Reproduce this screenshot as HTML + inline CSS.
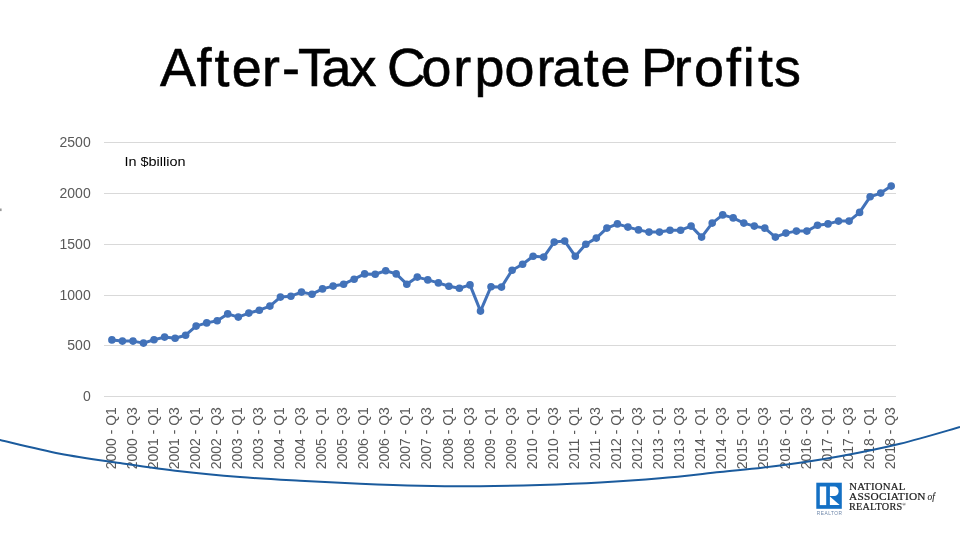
<!DOCTYPE html>
<html lang="en">
<head>
<meta charset="utf-8">
<title>After-Tax Corporate Profits</title>
<style>
html,body{margin:0;padding:0;background:#fff;}
body{width:960px;height:537px;overflow:hidden;position:relative;}
svg{display:block;position:absolute;left:0;top:0;}
.sans{font-family:"Liberation Sans",sans-serif;}
.serif{font-family:"Liberation Serif",serif;}
</style>
</head>
<body>
<svg width="960" height="537" viewBox="0 0 960 537">
<rect x="0" y="0" width="960" height="537" fill="#ffffff"/>
<text class="sans" y="85.9" font-size="53.8" fill="#000" stroke="#000" stroke-width="0.6" x="160.1 196.6 214.6 231.7 262.0 282.0 297.9 321.4 349.5 379.5 387.1 421.4 453.2 474.5 504.6 536.6 552.4 583.8 600.4 630.4 641.0 673.7 694.1 726.1 742.8 758.0 774.1">After-Tax Corporate Profits</text>
<g stroke="#d9d9d9" stroke-width="1" shape-rendering="crispEdges">
<line x1="104" y1="142.5" x2="896" y2="142.5"/>
<line x1="104" y1="193.5" x2="896" y2="193.5"/>
<line x1="104" y1="244.5" x2="896" y2="244.5"/>
<line x1="104" y1="295.5" x2="896" y2="295.5"/>
<line x1="104" y1="345.5" x2="896" y2="345.5"/>
<line x1="104" y1="396.5" x2="896" y2="396.5"/>
</g>
<g class="sans" font-size="14" fill="#595959" text-anchor="end">
<text x="90.7" y="147.3">2500</text>
<text x="90.7" y="198.3">2000</text>
<text x="90.7" y="249.3">1500</text>
<text x="90.7" y="300.3">1000</text>
<text x="90.7" y="350.3">500</text>
<text x="90.7" y="401.3">0</text>
</g>
<text class="sans" x="124.5" y="166" font-size="12.6" fill="#000" textLength="61" lengthAdjust="spacingAndGlyphs">In $billion</text>
<g class="sans" font-size="14" fill="#595959">
<text transform="translate(115.5,469.2) rotate(-90)" textLength="62" lengthAdjust="spacingAndGlyphs">2000 - Q1</text>
<text transform="translate(136.6,469.2) rotate(-90)" textLength="62" lengthAdjust="spacingAndGlyphs">2000 - Q3</text>
<text transform="translate(157.6,469.2) rotate(-90)" textLength="62" lengthAdjust="spacingAndGlyphs">2001 - Q1</text>
<text transform="translate(178.7,469.2) rotate(-90)" textLength="62" lengthAdjust="spacingAndGlyphs">2001 - Q3</text>
<text transform="translate(199.7,469.2) rotate(-90)" textLength="62" lengthAdjust="spacingAndGlyphs">2002 - Q1</text>
<text transform="translate(220.8,469.2) rotate(-90)" textLength="62" lengthAdjust="spacingAndGlyphs">2002 - Q3</text>
<text transform="translate(241.9,469.2) rotate(-90)" textLength="62" lengthAdjust="spacingAndGlyphs">2003 - Q1</text>
<text transform="translate(262.9,469.2) rotate(-90)" textLength="62" lengthAdjust="spacingAndGlyphs">2003 - Q3</text>
<text transform="translate(284.0,469.2) rotate(-90)" textLength="62" lengthAdjust="spacingAndGlyphs">2004 - Q1</text>
<text transform="translate(305.1,469.2) rotate(-90)" textLength="62" lengthAdjust="spacingAndGlyphs">2004 - Q3</text>
<text transform="translate(326.1,469.2) rotate(-90)" textLength="62" lengthAdjust="spacingAndGlyphs">2005 - Q1</text>
<text transform="translate(347.2,469.2) rotate(-90)" textLength="62" lengthAdjust="spacingAndGlyphs">2005 - Q3</text>
<text transform="translate(368.2,469.2) rotate(-90)" textLength="62" lengthAdjust="spacingAndGlyphs">2006 - Q1</text>
<text transform="translate(389.3,469.2) rotate(-90)" textLength="62" lengthAdjust="spacingAndGlyphs">2006 - Q3</text>
<text transform="translate(410.4,469.2) rotate(-90)" textLength="62" lengthAdjust="spacingAndGlyphs">2007 - Q1</text>
<text transform="translate(431.4,469.2) rotate(-90)" textLength="62" lengthAdjust="spacingAndGlyphs">2007 - Q3</text>
<text transform="translate(452.5,469.2) rotate(-90)" textLength="62" lengthAdjust="spacingAndGlyphs">2008 - Q1</text>
<text transform="translate(473.6,469.2) rotate(-90)" textLength="62" lengthAdjust="spacingAndGlyphs">2008 - Q3</text>
<text transform="translate(494.6,469.2) rotate(-90)" textLength="62" lengthAdjust="spacingAndGlyphs">2009 - Q1</text>
<text transform="translate(515.7,469.2) rotate(-90)" textLength="62" lengthAdjust="spacingAndGlyphs">2009 - Q3</text>
<text transform="translate(536.7,469.2) rotate(-90)" textLength="62" lengthAdjust="spacingAndGlyphs">2010 - Q1</text>
<text transform="translate(557.8,469.2) rotate(-90)" textLength="62" lengthAdjust="spacingAndGlyphs">2010 - Q3</text>
<text transform="translate(578.9,469.2) rotate(-90)" textLength="62" lengthAdjust="spacingAndGlyphs">2011 - Q1</text>
<text transform="translate(599.9,469.2) rotate(-90)" textLength="62" lengthAdjust="spacingAndGlyphs">2011 - Q3</text>
<text transform="translate(621.0,469.2) rotate(-90)" textLength="62" lengthAdjust="spacingAndGlyphs">2012 - Q1</text>
<text transform="translate(642.1,469.2) rotate(-90)" textLength="62" lengthAdjust="spacingAndGlyphs">2012 - Q3</text>
<text transform="translate(663.1,469.2) rotate(-90)" textLength="62" lengthAdjust="spacingAndGlyphs">2013 - Q1</text>
<text transform="translate(684.2,469.2) rotate(-90)" textLength="62" lengthAdjust="spacingAndGlyphs">2013 - Q3</text>
<text transform="translate(705.2,469.2) rotate(-90)" textLength="62" lengthAdjust="spacingAndGlyphs">2014 - Q1</text>
<text transform="translate(726.3,469.2) rotate(-90)" textLength="62" lengthAdjust="spacingAndGlyphs">2014 - Q3</text>
<text transform="translate(747.4,469.2) rotate(-90)" textLength="62" lengthAdjust="spacingAndGlyphs">2015 - Q1</text>
<text transform="translate(768.4,469.2) rotate(-90)" textLength="62" lengthAdjust="spacingAndGlyphs">2015 - Q3</text>
<text transform="translate(789.5,469.2) rotate(-90)" textLength="62" lengthAdjust="spacingAndGlyphs">2016 - Q1</text>
<text transform="translate(810.5,469.2) rotate(-90)" textLength="62" lengthAdjust="spacingAndGlyphs">2016 - Q3</text>
<text transform="translate(831.6,469.2) rotate(-90)" textLength="62" lengthAdjust="spacingAndGlyphs">2017 - Q1</text>
<text transform="translate(852.7,469.2) rotate(-90)" textLength="62" lengthAdjust="spacingAndGlyphs">2017 - Q3</text>
<text transform="translate(873.7,469.2) rotate(-90)" textLength="62" lengthAdjust="spacingAndGlyphs">2018 - Q1</text>
<text transform="translate(894.8,469.2) rotate(-90)" textLength="62" lengthAdjust="spacingAndGlyphs">2018 - Q3</text>
</g>
<polyline points="111.9,339.9 122.4,341.1 133.0,341.1 143.5,343.1 154.0,339.8 164.6,337.1 175.1,338.3 185.6,335.2 196.1,326.1 206.7,322.9 217.2,320.8 227.7,313.9 238.3,317.1 248.8,313.1 259.3,310.2 269.9,306.1 280.4,297.1 290.9,296.2 301.5,292.1 312.0,294.2 322.5,288.9 333.1,286.1 343.6,284.2 354.1,279.2 364.6,273.9 375.2,274.2 385.7,270.8 396.2,273.9 406.8,284.2 417.3,277.1 427.8,279.9 438.4,282.9 448.9,286.2 459.4,288.3 470.0,284.9 480.5,311.1 491.0,286.7 501.5,287.1 512.1,270.2 522.6,264.2 533.1,256.3 543.7,257.1 554.2,242.1 564.7,241.1 575.3,256.2 585.8,244.2 596.3,238.1 606.9,228.1 617.4,223.9 627.9,227.1 638.5,229.9 649.0,232.1 659.5,232.1 670.0,230.2 680.6,230.2 691.1,226.1 701.6,237.1 712.2,223.1 722.7,214.9 733.2,217.9 743.8,223.1 754.3,226.1 764.8,228.1 775.4,237.1 785.9,233.1 796.4,231.1 806.9,231.1 817.5,225.2 828.0,223.9 838.5,221.1 849.1,221.1 859.6,212.4 870.1,196.8 880.7,193.1 891.2,186.1" fill="none" stroke="#4272b9" stroke-width="3" stroke-linejoin="round" stroke-linecap="round"/>
<g fill="#4272b9">
<circle cx="111.9" cy="339.9" r="3.8"/>
<circle cx="122.4" cy="341.1" r="3.8"/>
<circle cx="133.0" cy="341.1" r="3.8"/>
<circle cx="143.5" cy="343.1" r="3.8"/>
<circle cx="154.0" cy="339.8" r="3.8"/>
<circle cx="164.6" cy="337.1" r="3.8"/>
<circle cx="175.1" cy="338.3" r="3.8"/>
<circle cx="185.6" cy="335.2" r="3.8"/>
<circle cx="196.1" cy="326.1" r="3.8"/>
<circle cx="206.7" cy="322.9" r="3.8"/>
<circle cx="217.2" cy="320.8" r="3.8"/>
<circle cx="227.7" cy="313.9" r="3.8"/>
<circle cx="238.3" cy="317.1" r="3.8"/>
<circle cx="248.8" cy="313.1" r="3.8"/>
<circle cx="259.3" cy="310.2" r="3.8"/>
<circle cx="269.9" cy="306.1" r="3.8"/>
<circle cx="280.4" cy="297.1" r="3.8"/>
<circle cx="290.9" cy="296.2" r="3.8"/>
<circle cx="301.5" cy="292.1" r="3.8"/>
<circle cx="312.0" cy="294.2" r="3.8"/>
<circle cx="322.5" cy="288.9" r="3.8"/>
<circle cx="333.1" cy="286.1" r="3.8"/>
<circle cx="343.6" cy="284.2" r="3.8"/>
<circle cx="354.1" cy="279.2" r="3.8"/>
<circle cx="364.6" cy="273.9" r="3.8"/>
<circle cx="375.2" cy="274.2" r="3.8"/>
<circle cx="385.7" cy="270.8" r="3.8"/>
<circle cx="396.2" cy="273.9" r="3.8"/>
<circle cx="406.8" cy="284.2" r="3.8"/>
<circle cx="417.3" cy="277.1" r="3.8"/>
<circle cx="427.8" cy="279.9" r="3.8"/>
<circle cx="438.4" cy="282.9" r="3.8"/>
<circle cx="448.9" cy="286.2" r="3.8"/>
<circle cx="459.4" cy="288.3" r="3.8"/>
<circle cx="470.0" cy="284.9" r="3.8"/>
<circle cx="480.5" cy="311.1" r="3.8"/>
<circle cx="491.0" cy="286.7" r="3.8"/>
<circle cx="501.5" cy="287.1" r="3.8"/>
<circle cx="512.1" cy="270.2" r="3.8"/>
<circle cx="522.6" cy="264.2" r="3.8"/>
<circle cx="533.1" cy="256.3" r="3.8"/>
<circle cx="543.7" cy="257.1" r="3.8"/>
<circle cx="554.2" cy="242.1" r="3.8"/>
<circle cx="564.7" cy="241.1" r="3.8"/>
<circle cx="575.3" cy="256.2" r="3.8"/>
<circle cx="585.8" cy="244.2" r="3.8"/>
<circle cx="596.3" cy="238.1" r="3.8"/>
<circle cx="606.9" cy="228.1" r="3.8"/>
<circle cx="617.4" cy="223.9" r="3.8"/>
<circle cx="627.9" cy="227.1" r="3.8"/>
<circle cx="638.5" cy="229.9" r="3.8"/>
<circle cx="649.0" cy="232.1" r="3.8"/>
<circle cx="659.5" cy="232.1" r="3.8"/>
<circle cx="670.0" cy="230.2" r="3.8"/>
<circle cx="680.6" cy="230.2" r="3.8"/>
<circle cx="691.1" cy="226.1" r="3.8"/>
<circle cx="701.6" cy="237.1" r="3.8"/>
<circle cx="712.2" cy="223.1" r="3.8"/>
<circle cx="722.7" cy="214.9" r="3.8"/>
<circle cx="733.2" cy="217.9" r="3.8"/>
<circle cx="743.8" cy="223.1" r="3.8"/>
<circle cx="754.3" cy="226.1" r="3.8"/>
<circle cx="764.8" cy="228.1" r="3.8"/>
<circle cx="775.4" cy="237.1" r="3.8"/>
<circle cx="785.9" cy="233.1" r="3.8"/>
<circle cx="796.4" cy="231.1" r="3.8"/>
<circle cx="806.9" cy="231.1" r="3.8"/>
<circle cx="817.5" cy="225.2" r="3.8"/>
<circle cx="828.0" cy="223.9" r="3.8"/>
<circle cx="838.5" cy="221.1" r="3.8"/>
<circle cx="849.1" cy="221.1" r="3.8"/>
<circle cx="859.6" cy="212.4" r="3.8"/>
<circle cx="870.1" cy="196.8" r="3.8"/>
<circle cx="880.7" cy="193.1" r="3.8"/>
<circle cx="891.2" cy="186.1" r="3.8"/>
</g>
<rect x="0" y="208.5" width="1.6" height="2.6" fill="#9a9a9a"/>
<path d="M-6,438.5 L0,440 C10.0,442.29 40.0,449.92 60,453.75 C80.0,457.58 100.0,460.08 120,463 C140.0,465.92 160.0,468.92 180,471.25 C200.0,473.58 220.0,475.42 240,477 C260.0,478.58 280.0,479.62 300,480.75 C320.0,481.88 340.0,482.92 360,483.75 C380.0,484.58 400.0,485.33 420,485.75 C440.0,486.17 460.0,486.38 480,486.25 C500.0,486.12 520.0,485.62 540,485 C560.0,484.38 580.0,483.62 600,482.5 C620.0,481.38 640.0,480.00 660,478.25 C680.0,476.50 700.0,474.12 720,472 C740.0,469.88 760.0,468.12 780,465.5 C800.0,462.88 820.0,459.88 840,456.25 C860.0,452.62 880.0,448.62 900,443.75 C920.0,438.88 950.0,429.79 960,427 L966,425" fill="none" stroke="#1b5b9d" stroke-width="2"/>
<g>
<rect x="816.3" y="482.7" width="25.5" height="26.1" fill="#1470c4"/>
<rect x="819.8" y="486.5" width="6.4" height="18.6" fill="#fff"/>
<path d="M829.9,486.5 H834.2 A4.4,4.4 0 0 1 838.6,490.9 V491.6 A4.4,4.4 0 0 1 834.2,496 H829.9 Z" fill="#fff"/>
<path d="M829.9,496.5 L839.7,505.1 H829.9 Z" fill="#fff"/>
<text class="sans" x="816.8" y="514.9" font-size="4.8" fill="#6e87aa" textLength="25.2" lengthAdjust="spacing">REALTOR</text>
</g>
<g class="serif" font-size="10" fill="#222" stroke="#222" stroke-width="0.2" letter-spacing="0.2">
<text x="849.3" y="489.7" textLength="56.2" lengthAdjust="spacingAndGlyphs">NATIONAL</text>
<text x="849.1" y="499.7" textLength="76.6" lengthAdjust="spacingAndGlyphs">ASSOCIATION</text>
<text x="927.6" y="499.7" font-style="italic" font-size="9.4" letter-spacing="0" stroke-width="0.1">of</text>
<text x="849.1" y="509.5" textLength="53.2" lengthAdjust="spacingAndGlyphs">REALTORS</text>
<text x="902.3" y="506.2" font-size="5" letter-spacing="0" font-weight="bold" stroke="none">®</text>
</g>
</svg>
</body>
</html>
